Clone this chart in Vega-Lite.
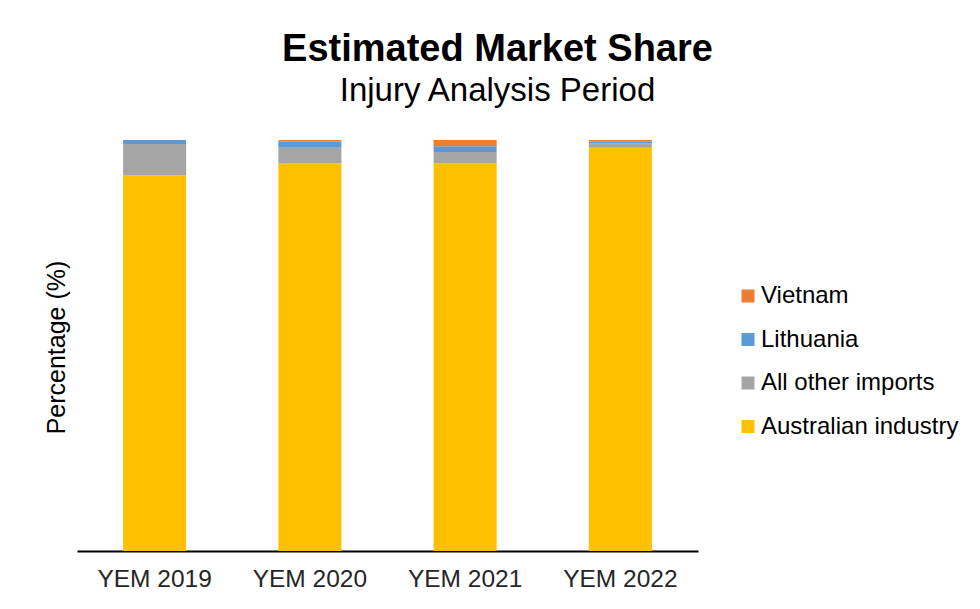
{
  "$schema": "https://vega.github.io/schema/vega-lite/v6.json",
  "autosize": "none",
  "width": 621,
  "height": 411,
  "padding": {"left": 77, "top": 140, "right": 282, "bottom": 58},
  "background": "white",
  "title": {
    "text": "Estimated Market Share",
    "subtitle": "Injury Analysis Period",
    "anchor": "middle",
    "frame": "group",
    "dx": 110,
    "offset": 32,
    "font": "Liberation Sans",
    "fontSize": 38,
    "fontWeight": "bold",
    "color": "#000000",
    "subtitleFont": "Liberation Sans",
    "subtitleFontSize": 33,
    "subtitleColor": "#000000",
    "subtitlePadding": 6
  },
  "data": {
    "values": [
      {"year": "YEM 2019", "series": "Australian industry", "rank": 1, "share": 91.4},
      {"year": "YEM 2019", "series": "All other imports", "rank": 2, "share": 7.6},
      {"year": "YEM 2019", "series": "Lithuania", "rank": 3, "share": 1.0},
      {"year": "YEM 2019", "series": "Vietnam", "rank": 4, "share": 0.0},
      {"year": "YEM 2020", "series": "Australian industry", "rank": 1, "share": 94.3},
      {"year": "YEM 2020", "series": "All other imports", "rank": 2, "share": 3.8},
      {"year": "YEM 2020", "series": "Lithuania", "rank": 3, "share": 1.5},
      {"year": "YEM 2020", "series": "Vietnam", "rank": 4, "share": 0.4},
      {"year": "YEM 2021", "series": "Australian industry", "rank": 1, "share": 94.3},
      {"year": "YEM 2021", "series": "All other imports", "rank": 2, "share": 2.8},
      {"year": "YEM 2021", "series": "Lithuania", "rank": 3, "share": 1.4},
      {"year": "YEM 2021", "series": "Vietnam", "rank": 4, "share": 1.5},
      {"year": "YEM 2022", "series": "Australian industry", "rank": 1, "share": 98.1},
      {"year": "YEM 2022", "series": "All other imports", "rank": 2, "share": 1.1},
      {"year": "YEM 2022", "series": "Lithuania", "rank": 3, "share": 0.4},
      {"year": "YEM 2022", "series": "Vietnam", "rank": 4, "share": 0.4}
    ]
  },
  "mark": {"type": "bar"},
  "encoding": {
    "x": {
      "field": "year",
      "type": "nominal",
      "sort": null,
      "scale": {"paddingInner": 0.594, "paddingOuter": 0.297},
      "axis": {
        "title": null,
        "labelAngle": 0,
        "labelFont": "Liberation Sans",
        "labelFontSize": 24.5,
        "labelColor": "#262626",
        "labelPadding": 16,
        "ticks": false,
        "domainColor": "#000000",
        "domainWidth": 2
      }
    },
    "y": {
      "field": "share",
      "type": "quantitative",
      "stack": "zero",
      "scale": {"domain": [0, 100], "nice": false},
      "axis": {
        "title": "Percentage (%)",
        "labels": false,
        "ticks": false,
        "grid": false,
        "domain": false,
        "titleFont": "Liberation Sans",
        "titleFontSize": 25,
        "titleFontWeight": "normal",
        "titleColor": "#000000",
        "titleX": -33,
        "titleY": 207,
        "titleAngle": -90,
        "titleAlign": "center",
        "titleBaseline": "top"
      }
    },
    "order": {"field": "rank", "type": "quantitative", "sort": "ascending"},
    "color": {
      "field": "series",
      "type": "nominal",
      "scale": {
        "domain": ["Vietnam", "Lithuania", "All other imports", "Australian industry"],
        "range": ["#ED7D31", "#5B9BD5", "#A5A5A5", "#FFC000"]
      },
      "legend": {
        "title": null,
        "orient": "none",
        "legendX": 659,
        "legendY": 144,
        "padding": 0,
        "symbolType": "square",
        "symbolSize": 169,
        "symbolStrokeWidth": 0,
        "symbolOpacity": 1,
        "labelFont": "Liberation Sans",
        "labelFontSize": 24,
        "labelColor": "#000000",
        "labelOffset": 1,
        "rowPadding": 19.5,
        "labelLimit": 400
      }
    }
  },
  "config": {
    "view": {"stroke": null},
    "axis": {"grid": false}
  }
}
